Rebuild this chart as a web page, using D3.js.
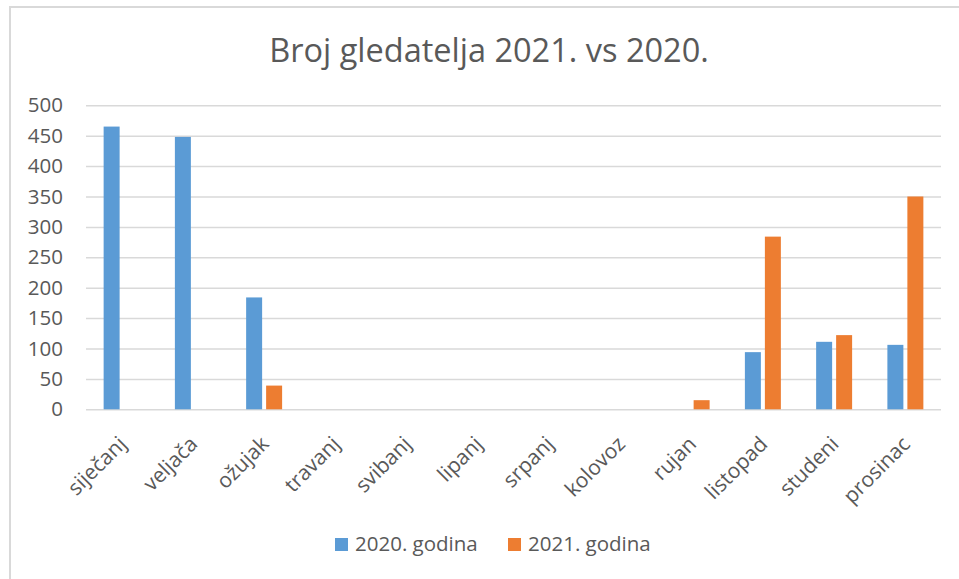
<!DOCTYPE html>
<html>
<head>
<meta charset="utf-8">
<script src="https://cdn.jsdelivr.net/npm/d3@7"></script>
<style>
 body {margin:0; background:#fff;}
 text {font-family:"Open Sans", sans-serif; fill:#595959;}
</style>
</head>
<body>
<svg width="959" height="579"></svg>
<script>
const months = ["siječanj","veljača","ožujak","travanj","svibanj","lipanj","srpanj","kolovoz","rujan","listopad","studeni","prosinac"];
const series = ["2020. godina","2021. godina"];
const v2020 = [465, 448, 184, null, null, null, null, null, null, 94, 111, 106];
const v2021 = [null, null, 39, null, null, null, null, null, 15, 284, 122, 350];
const yTicks = [0,50,100,150,200,250,300,350,400,450,500];
const colors = ["#5B9BD5","#ED7D31"];

const svg = d3.select("svg");

// outer chart border
svg.append("rect")
  .attr("x",10).attr("y",7).attr("width",1000).attr("height",1000)
  .attr("fill","none").attr("stroke","#D9D9D9").attr("stroke-width",2);

svg.append("text")
  .attr("x",489).attr("y",62)
  .attr("text-anchor","middle")
  .style("font-size","32.5px")
  .text("Broj gledatelja 2021. vs 2020.");

var pLeft = 86, pRight = 941, pTop = 105.3, pBottom = 409.3;

var x0 = d3.scaleBand().domain(months).range([pLeft,pRight])
  .paddingInner(0.495).paddingOuter(0.2475);
var x1 = d3.scaleBand().domain(series).range([0,x0.bandwidth()]).paddingInner(0.2);
var y = d3.scaleLinear().domain([0,500]).range([pBottom,pTop]);

// gridlines + y labels
var yAxis = svg.append("g")
  .attr("transform","translate("+pLeft+",0)")
  .call(d3.axisLeft(y).tickValues(yTicks).tickSize(-(pRight-pLeft)).tickPadding(23));
yAxis.select(".domain").remove();
yAxis.selectAll("line").attr("stroke","#D9D9D9").attr("stroke-width",1.5);
yAxis.selectAll("text").style("font-size","20.5px").style("font-family","Open Sans").attr("fill","#595959");

// bars
var data = [v2020, v2021];
data.forEach(function (vals, s) {
  svg.append("g")
    .selectAll("rect")
    .data(months.map(function (m,i) { return {m:m, v:vals[i]}; }).filter(function (d) { return d.v != null; }))
    .enter()
    .append("rect")
      .attr("x", function (d) { return x0(d.m) + x1(series[s]); })
      .attr("y", function (d) { return y(d.v); })
      .attr("width", x1.bandwidth())
      .attr("height", function (d) { return y(0) - y(d.v); })
      .attr("fill", colors[s]);
});

// x axis labels
var xAxis = svg.append("g")
  .attr("transform","translate(0,"+pBottom+")")
  .call(d3.axisBottom(x0).tickSize(0).tickPadding(0));
xAxis.select(".domain").remove();
xAxis.selectAll("text")
  .style("font-size","21px").style("font-family","Open Sans").attr("fill","#595959")
  .attr("text-anchor","end")
  .attr("dy","0")
  .attr("transform","translate(6,36) rotate(-45)");

// legend
var legend = svg.append("g");
var lx = [335, 508];
series.forEach(function (s, i) {
  legend.append("rect").attr("x",lx[i]).attr("y",538).attr("width",13).attr("height",13).attr("fill",colors[i]);
  legend.append("text").attr("x",lx[i]+20).attr("y",551).style("font-size","20.5px").text(s);
});
</script>
</body>
</html>
